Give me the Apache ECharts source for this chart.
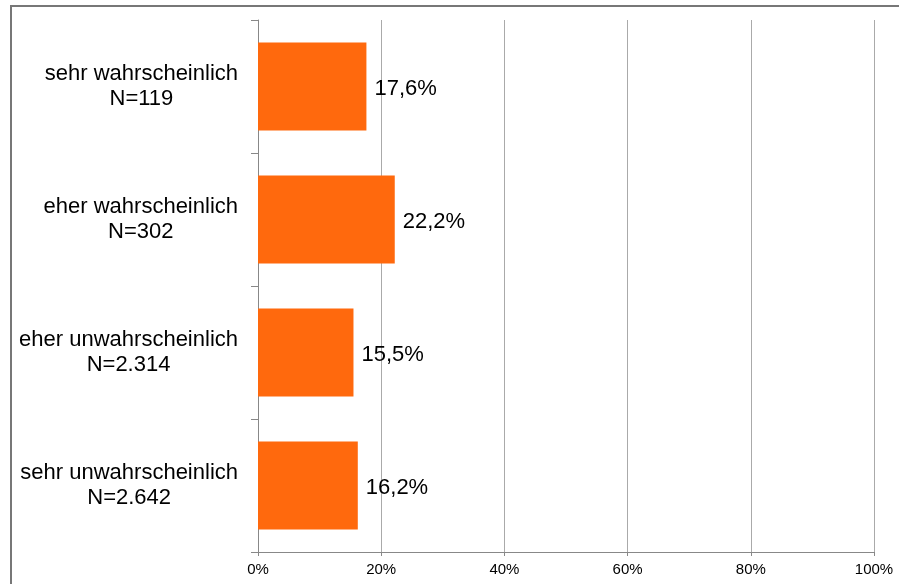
<!DOCTYPE html>
<html>
<head>
<meta charset="utf-8">
<script src="https://cdn.jsdelivr.net/npm/echarts@6/dist/echarts.min.js"></script>
<style>
  html, body { margin: 0; padding: 0; background: #fff; }
  #chart { width: 899px; height: 584px; }
</style>
</head>
<body>
<div id="chart"></div>
<script>
// Kategorien (von oben nach unten)
const categories = ['sehr wahrscheinlich', 'eher wahrscheinlich', 'eher unwahrscheinlich', 'sehr unwahrscheinlich'];
const counts = ['119', '302', '2.314', '2.642'];
const shares = [17.6, 22.2, 15.5, 16.2];
const xTicks = [0, 20, 40, 60, 80, 100];

const chart = echarts.init(document.getElementById('chart'));

const option = {
  animation: false,
  backgroundColor: '#fff',
  textStyle: { fontFamily: 'Liberation Sans, Arial, sans-serif' },
  graphic: [{
    type: 'rect',
    shape: { x: 11, y: 6, width: 1000, height: 1000 },
    style: { fill: 'none', stroke: '#777', lineWidth: 2 },
    silent: true
  }],
  grid: { left: 258, right: 25, top: 20, bottom: 32 },
  xAxis: {
    type: 'value',
    min: xTicks[0],
    max: xTicks[xTicks.length - 1],
    interval: 20,
    axisLine: { show: true, lineStyle: { color: '#888', width: 1 } },
    axisTick: { show: true, length: 4, lineStyle: { color: '#888' } },
    splitLine: { show: true, lineStyle: { color: '#aaa', width: 1 } },
    axisLabel: { formatter: '{value}%', fontSize: 15, color: '#000', margin: 10 }
  },
  yAxis: {
    type: 'category',
    inverse: true,
    data: categories.map((c, i) => c + '\nN=' + counts[i]),
    axisLine: { show: true, lineStyle: { color: '#888', width: 1 } },
    axisTick: { show: true, length: 7, lineStyle: { color: '#888' } },
    axisLabel: {
      margin: 20,
      color: '#000',
      fontSize: 22,
      formatter: v => v.split('\n').map(s => '{c|' + s + '}').join('\n'),
      rich: { c: { align: 'center', fontSize: 22, lineHeight: 25, color: '#000' } }
    }
  },
  series: [{
    type: 'bar',
    data: shares,
    barCategoryGap: '34%',
    itemStyle: { color: '#FF690D' },
    label: {
      show: true,
      position: 'right',
      distance: 8,
      fontSize: 22,
      color: '#000',
      offset: [0, 2],
      formatter: p => p.value.toFixed(1).replace('.', ',') + '%'
    }
  }]
};

chart.setOption(option);
</script>
</body>
</html>
